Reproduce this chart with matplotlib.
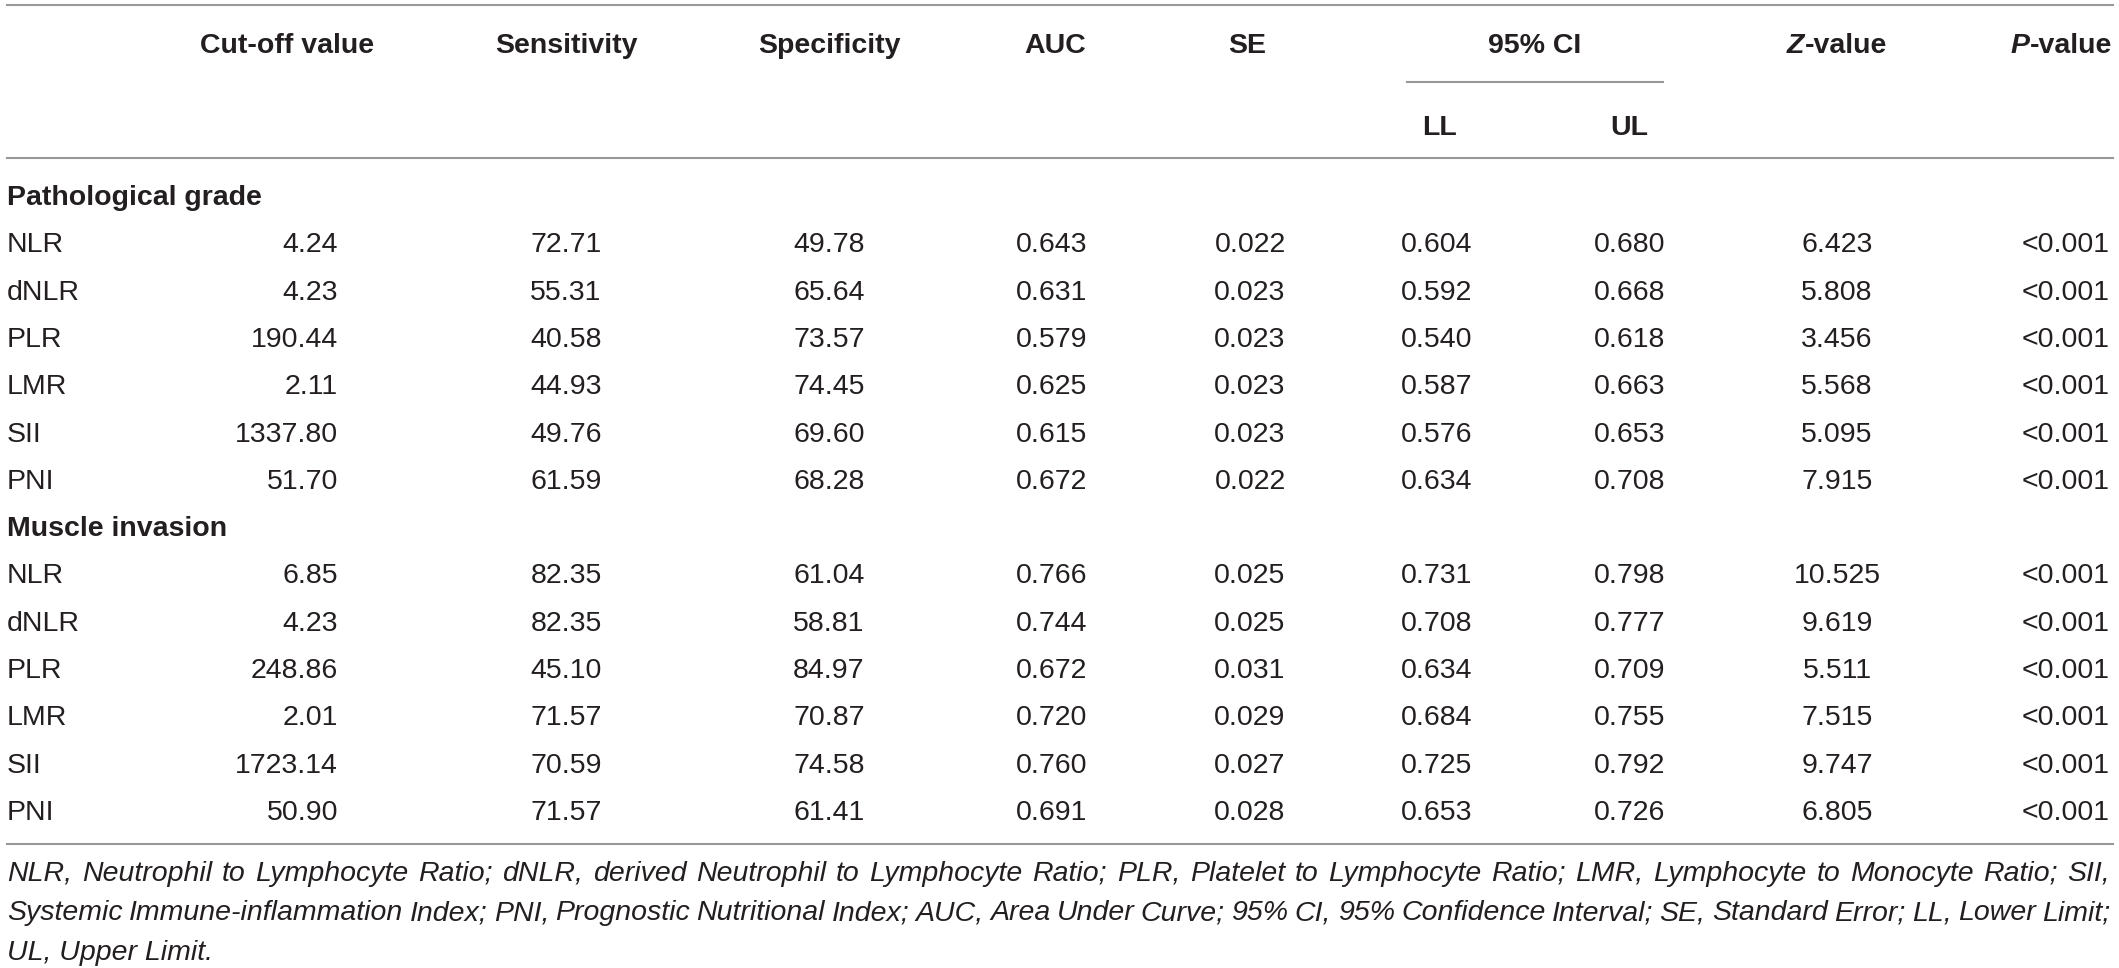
import matplotlib
matplotlib.use("Agg")
import matplotlib.pyplot as plt

# données du tableau
groupes = ["Pathological grade", "Muscle invasion"]
marqueurs = ["NLR", "dNLR", "PLR", "LMR", "SII", "PNI"]

cutoff = [[4.24, 4.23, 190.44, 2.11, 1337.80, 51.70],
          [6.85, 4.23, 248.86, 2.01, 1723.14, 50.90]]
sensibilite = [[72.71, 55.31, 40.58, 44.93, 49.76, 61.59],
               [82.35, 82.35, 45.10, 71.57, 70.59, 71.57]]
specificite = [[49.78, 65.64, 73.57, 74.45, 69.60, 68.28],
               [61.04, 58.81, 84.97, 70.87, 74.58, 61.41]]
auc = [[0.643, 0.631, 0.579, 0.625, 0.615, 0.672],
       [0.766, 0.744, 0.672, 0.720, 0.760, 0.691]]
se = [[0.022, 0.023, 0.023, 0.023, 0.023, 0.022],
      [0.025, 0.025, 0.031, 0.029, 0.027, 0.028]]
ci_ll = [[0.604, 0.592, 0.540, 0.587, 0.576, 0.634],
         [0.731, 0.708, 0.634, 0.684, 0.725, 0.653]]
ci_ul = [[0.680, 0.668, 0.618, 0.663, 0.653, 0.708],
         [0.798, 0.777, 0.709, 0.755, 0.792, 0.726]]
z_val = [[6.423, 5.808, 3.456, 5.568, 5.095, 7.915],
         [10.525, 9.619, 5.511, 7.515, 9.747, 6.805]]
p_val = [["<0.001"] * 6, ["<0.001"] * 6]

note = [
    "NLR, Neutrophil to Lymphocyte Ratio; dNLR, derived Neutrophil to Lymphocyte Ratio; "
    "PLR, Platelet to Lymphocyte Ratio; LMR, Lymphocyte to Monocyte Ratio; SII,",
    "Systemic Immune-inflammation Index; PNI, Prognostic Nutritional Index; AUC, Area Under Curve; "
    "95% CI, 95% Confidence Interval; SE, Standard Error; LL, Lower Limit;",
    "UL, Upper Limit.",
]

W, H = 2119, 968
police = "Liberation Sans"
taille = 20.5
encre = "#231f20"
gris = "#999999"

fig = plt.figure(figsize=(W / 100, H / 100), dpi=100)
ax = fig.add_axes([0, 0, 1, 1])
ax.set_xlim(0, W)
ax.set_ylim(H, 0)
ax.axis("off")
rend = fig.canvas.get_renderer()


def texte(x, y, s, ha="left", poids="normal", style="normal", fs=None):
    return ax.text(x, y, s, ha=ha, va="baseline", fontsize=fs or taille, family=police,
                   weight=poids, style=style, color=encre)


def largeur(s, poids="normal", style="normal", fs=None):
    t = ax.text(0, 0, s, fontsize=fs or taille, family=police, weight=poids, style=style)
    w = t.get_window_extent(rend).width
    t.remove()
    return w


def morceaux(x, y, parts, ha="center"):
    # parts: liste de (texte, style) en gras
    ws = [largeur(s, "bold", st) for s, st in parts]
    tot = sum(ws)
    x0 = x - tot / 2 if ha == "center" else (x - tot if ha == "right" else x)
    for (s, st), w in zip(parts, ws):
        texte(x0, y, s, poids="bold", style=st)
        x0 += w


# colonnes
x_lab = 7
x_cut = 338
x_sens = 566
x_spec = 829
x_auc = 1052
x_se = 1250
x_ll = 1437
x_ul = 1630
x_z = 1837
x_p = 2110

dy = 10  # demi hauteur de capitale

# filets
ax.plot([7, 2113], [5, 5], color=gris, lw=1.5)
ax.plot([7, 2113], [158, 158], color=gris, lw=1.5)
ax.plot([1407, 1663], [82, 82], color=gris, lw=1.5)
ax.plot([7, 2113], [844, 844], color=gris, lw=1.5)

# en-têtes
yh = 43 + dy
texte(287, yh, "Cut-off value", ha="center", poids="bold")
texte(x_sens, yh, "Sensitivity", ha="center", poids="bold")
texte(x_spec, yh, "Specificity", ha="center", poids="bold")
texte(1055, yh, "AUC", ha="center", poids="bold")
texte(1247, yh, "SE", ha="center", poids="bold")
texte(1535, yh, "95% CI", ha="center", poids="bold")
morceaux(x_z, yh, [("Z", "italic"), ("-value", "normal")], ha="center")
morceaux(2112, yh, [("P", "italic"), ("-value", "normal")], ha="right")
texte(1440, 125 + dy, "LL", ha="center", poids="bold")
texte(1629, 125 + dy, "UL", ha="center", poids="bold")

# corps
pas = 47.3
k = 0
for g in range(2):
    texte(x_lab, 195 + pas * k + dy, groupes[g], poids="bold")
    k += 1
    for i, m in enumerate(marqueurs):
        y = 195 + pas * k + dy
        texte(x_lab, y, m)
        texte(x_cut, y, f"{cutoff[g][i]:.2f}", ha="right")
        texte(x_sens, y, f"{sensibilite[g][i]:.2f}", ha="center")
        texte(x_spec, y, f"{specificite[g][i]:.2f}", ha="center")
        texte(x_auc, y, f"{auc[g][i]:.3f}", ha="center")
        texte(x_se, y, f"{se[g][i]:.3f}", ha="center")
        texte(x_ll, y, f"{ci_ll[g][i]:.3f}", ha="center")
        texte(x_ul, y, f"{ci_ul[g][i]:.3f}", ha="center")
        texte(x_z, y, f"{z_val[g][i]:.3f}", ha="center")
        texte(x_p, y, p_val[g][i], ha="right")
        k += 1

# note de bas de tableau, justifiée
fs_note = taille
largeur_max = 2110 - x_lab
for ligne in note[:-1]:
    nat = sum(largeur(m, style="italic", fs=fs_note) for m in ligne.split(" "))
    nat += (len(ligne.split(" ")) - 1) * 0.2 * fs_note
    if nat > largeur_max:
        fs_note = fs_note * largeur_max / nat

y_notes = [871, 910, 950]
for j, ligne in enumerate(note):
    y = y_notes[j] + dy
    if j == len(note) - 1:
        texte(x_lab, y, ligne, style="italic", fs=fs_note)
        continue
    mots = ligne.split(" ")
    ws = [largeur(m, style="italic", fs=fs_note) for m in mots]
    esp = (largeur_max - sum(ws)) / (len(mots) - 1)
    x = x_lab
    for m, w in zip(mots, ws):
        texte(x, y, m, style="italic", fs=fs_note)
        x += w + esp

fig.savefig("out.png", dpi=100)
